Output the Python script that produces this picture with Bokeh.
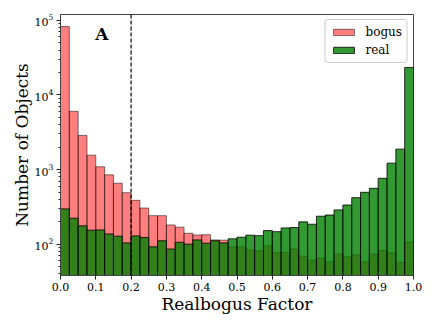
import numpy as np
from bokeh.plotting import figure
from bokeh.models import Range1d, FixedTicker, PrintfTickFormatter, Legend, LegendItem, Span, Label
from bokeh.embed import file_html
from bokeh.resources import INLINE

bin_edges = [i / 40 for i in range(41)]
bogus = [82800, 6050, 2860, 1560, 1090, 850, 655, 490, 387, 305, 241, 241, 181, 169, 140, 133,
         134, 114, 113, 92, 92, 84, 82, 95, 77, 78, 86, 69, 61, 65, 58, 74, 68, 72, 58, 74,
         82, 77, 57, 107]
real = [297, 223, 176, 154, 155, 137, 128, 104, 129, 123, 92, 111, 86, 106, 100, 114, 103, 111,
        104, 118, 124, 132, 130, 152, 147, 165, 167, 199, 185, 237, 246, 288, 335, 420, 496,
        561, 763, 1220, 1880, 23400]
x_ticks = [0.0, 0.1, 0.2, 0.3, 0.4, 0.5, 0.6, 0.7, 0.8, 0.9, 1.0]
cut = 0.2

FONT = "DejaVu Serif"

p = figure(width=428, height=319, y_axis_type="log", output_backend="svg",
           toolbar_location=None, x_range=Range1d(0, 1), y_range=Range1d(38, 1.2e5),
           min_border_left=60, min_border_right=15, min_border_top=14, min_border_bottom=44)

left = bin_edges[:-1]
right = bin_edges[1:]
r_b = p.quad(left=left, right=right, bottom=1, top=bogus, fill_color="red", fill_alpha=0.5,
             line_color="black", line_alpha=0.5, line_width=1)
r_r = p.quad(left=left, right=right, bottom=1, top=real, fill_color="green", fill_alpha=0.8,
             line_color="black", line_alpha=0.8, line_width=1)

p.add_layout(Span(location=cut, dimension="height", line_color="black", line_dash="4 2",
                  line_width=1.2))
p.add_layout(Label(x=0.117, y=65800, text="A", text_font=FONT, text_font_style="bold",
                   text_font_size="17px", text_align="center", text_baseline="middle",
                   text_color="black"))

legend = Legend(items=[LegendItem(label="bogus", renderers=[r_b]),
                       LegendItem(label="real", renderers=[r_r])],
                location="top_right", label_text_font=FONT, label_text_font_size="12px",
                label_text_color="black",
                glyph_width=26, glyph_height=8, label_height=14, spacing=4,
                padding=5, margin=5, border_line_color="#cccccc", border_line_alpha=1,
                border_radius=3, label_standoff=9)
p.add_layout(legend)

p.xaxis.ticker = FixedTicker(ticks=x_ticks)
p.xaxis.formatter = PrintfTickFormatter(format="%.1f")
p.xaxis.axis_label = "Realbogus Factor"
p.yaxis.axis_label = "Number of Objects"
for ax in (p.xaxis, p.yaxis):
    ax.axis_label_text_font = FONT
    ax.axis_label_text_font_size = "17px"
    ax.axis_label_text_font_style = "normal"
    ax.axis_label_text_color = "black"
    ax.major_label_text_font = FONT
    ax.major_label_text_font_size = "11px"
    ax.major_label_text_color = "black"
    ax.axis_line_color = "#444444"
    ax.major_tick_line_color = "#222222"
    ax.major_tick_out = 4
    ax.major_tick_in = 0
    ax.minor_tick_out = 2
    ax.minor_tick_in = 0
    ax.major_label_standoff = 3
    ax.axis_label_standoff = 0
p.xaxis.minor_tick_line_color = None
p.yaxis.minor_tick_line_color = "#222222"
p.xgrid.grid_line_color = None
p.ygrid.grid_line_color = None
p.outline_line_color = "#444444"
p.outline_line_alpha = 1
p.background_fill_color = "white"

open("out.html", "w").write(file_html(p, INLINE))
